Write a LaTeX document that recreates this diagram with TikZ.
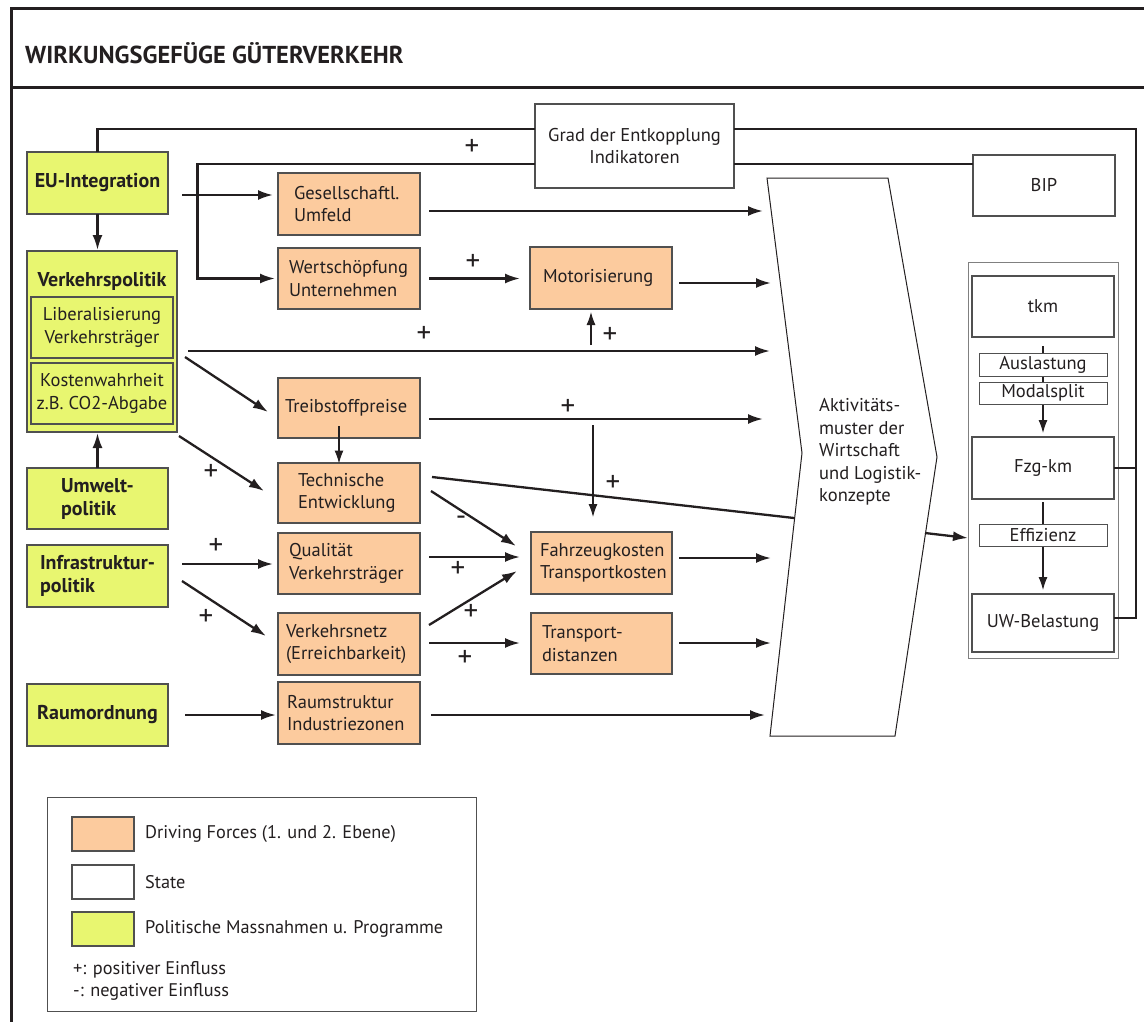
\documentclass[tikz,border=0pt]{standalone}
\usepackage{fontspec}
\setmainfont{PT Sans}
\usetikzlibrary{arrows.meta,calc}
\definecolor{orf}{RGB}{252,203,158}
\definecolor{grf}{RGB}{232,246,112}
\definecolor{bl}{RGB}{80,80,80}
\definecolor{ink}{RGB}{35,31,32}
\hyphenpenalty=10000
\exhyphenpenalty=10000
\begin{document}
\begin{tikzpicture}[x=1pt,y=-1pt,
  every node/.style={font=\fontsize{18.5}{22.5}\selectfont, text=ink},
  bx/.style={draw=bl, line width=1.1pt, anchor=north west, inner sep=0pt, outer sep=0pt},
  obox/.style={bx, fill=orf, minimum width=142pt, minimum height=61pt, align=left},
  gfont/.style={font=\fontsize{20}{23}\selectfont\bfseries},
  gbox/.style={bx, fill=grf, minimum width=141pt, minimum height=62pt, gfont},
  wbox/.style={bx, fill=white, minimum width=142pt, minimum height=61pt, align=center},
  sbox/.style={bx, fill=white, minimum width=128pt, minimum height=22pt, line width=1pt},
  arr/.style={draw=ink, line width=2.3pt, -{Latex[length=15pt,width=10pt]}},
  ln/.style={draw=ink, line width=2.3pt},
  tarr/.style={draw=ink, line width=1.1pt, -{Latex[length=13pt,width=9pt]}},
  pl/.style={font=\fontsize{29}{30}\selectfont, inner sep=0pt},
  sw/.style={bx, minimum width=62pt, minimum height=34pt},
  lt/.style={anchor=west, inner sep=0pt, font=\fontsize{18.3}{22}\selectfont}
]
\useasboundingbox (0,0) rectangle (1144,1021);
% frame
\draw[line width=3pt, ink] (11.5,1025) -- (11.5,8) -- (1148,8);
\draw[line width=3pt, ink] (11.5,87) -- (1148,87);
\node[anchor=west, inner sep=0pt, font=\fontsize{24.5}{28}\selectfont\bfseries] (title) at (25,53) {WIRKUNGSGEFÜGE GÜTERVERKEHR};

% green boxes
\node[gbox] (eu) at (27,152) {EU-Integration};
\node[gbox, minimum width=150pt, minimum height=181pt] (vp) at (27,251) {};
\node[anchor=center, inner sep=0pt, gfont] (vpt) at (102,281) {Verkehrspolitik};
\node[bx, fill=grf, minimum width=142pt, minimum height=61pt, align=center] (lib) at (31,297) {Liberalisierung\\Verkehrsträger};
\node[bx, fill=grf, minimum width=142pt, minimum height=61pt, align=center] (kost) at (31,363) {Kostenwahrheit\\z.B. CO2-Abgabe};
\node[gbox, minimum height=61pt, align=left] (umw) at (27,468) {Umwelt-\\politik};
\node[gbox, align=left] (infra) at (27,545) {Infrastruktur-\\politik};
\node[gbox] (raum) at (27,684) {Raumordnung};

% orange boxes
\node[obox, minimum height=62pt, inner xsep=16pt, text width=110pt] (ges) at (278,173) {Gesellschaftl.\\Umfeld};
\node[obox, inner xsep=11pt, text width=120pt] (wert) at (278,248) {Wertschöpfung\\Unternehmen};
\node[obox, minimum height=60pt, inner xsep=7pt, text width=128pt] (treib) at (278,378) {Treibstoffpreise};
\node[obox, minimum height=60pt, inner xsep=20pt, text width=102pt] (tech) at (278,463) {Technische\\Entwicklung};
\node[obox, inner xsep=11pt, text width=120pt] (qual) at (278,533) {Qualität\\Verkehrsträger};
\node[obox, minimum height=62pt, inner xsep=8pt, text width=126pt] (vnetz) at (278,613) {Verkehrsnetz\\(Erreichbarkeit)};
\node[obox, minimum height=62pt, inner xsep=9pt, text width=124pt] (rstr) at (278,682) {Raumstruktur\\Industriezonen};
\node[obox, minimum height=62pt, inner xsep=13pt, text width=116pt] (mot) at (530,247) {Motorisierung};
\node[obox, minimum width=141pt, minimum height=62pt, inner xsep=9pt, text width=123pt] (fzk) at (531,532) {Fahrzeugkosten\\Transportkosten};
\node[obox, minimum width=141pt, inner xsep=11pt, text width=119pt] (tdist) at (531,613) {Transport-\\distanzen};

% white boxes
\node[wbox, minimum width=199pt, minimum height=84pt] (grad) at (535,104) {Grad der Entkopplung\\Indikatoren};
\node[wbox, minimum height=61pt] (bip) at (973,155) {BIP};
\node[bx, draw=gray, line width=1pt, fill=white, minimum width=150pt, minimum height=396pt] (rbox) at (968,262) {};
\node[wbox, minimum height=61pt] (tkm) at (972,276) {tkm};
\node[wbox, minimum height=62pt] (fzg) at (972,437) {Fzg-km};
\node[wbox, minimum height=58pt] (uw) at (972,594) {UW-Belastung};
\draw[tarr] ([yshift=-9pt]tkm.south) -- ([yshift=4pt]fzg.north);
\draw[tarr] ([yshift=-3pt]fzg.south) -- ([yshift=4pt]uw.north);
\node[sbox, minimum height=23pt] (ausl) at (979,353) {Auslastung};
\node[sbox] (modal) at (979,382) {Modalsplit};
\node[sbox] (eff) at (979,524) {Effizienz};

% activity shape
\draw[draw=ink, line width=1pt, fill=white] (767,178) -- (888,178) -- (937,457) -- (895,736) -- (770,736) -- (802,453) -- cycle;
\node[anchor=west, inner sep=0pt, align=left] (akt) at (819,452) {Aktivitäts-\\muster der\\Wirtschaft\\und Logistik-\\konzepte};
\coordinate (s1) at (763,211);
\coordinate (s2) at (771,283);
\coordinate (s3) at (770,351);
\coordinate (s4) at (763,419);
\coordinate (s5) at (794,518);
\coordinate (s6) at (771,558);
\coordinate (s7) at (771,643);
\coordinate (s8) at (765,715);
\coordinate (s9) at (925,533);

% connectors from Grad
\draw[ln] (eu.north) |- ([shift={(0,-17)}]grad.west);
\draw[arr] ([shift={(0,18)}]grad.west) -| ([xshift=-80.5pt]wert.west) -- ([xshift=-3pt]wert.west);
\draw[ln] ([shift={(0,-17)}]grad.east) -| ([shift={(22,-5)}]uw.east) -- ([shift={(0,-5)}]uw.east);
\draw[ln] (fzg.east) -- ([xshift=22pt]fzg.east);
\draw[ln] ([shift={(0,18)}]grad.east) -- (bip.west |- {0,164});

% connectors
\draw[arr] ([shift={(14,12)}]eu.east) -- ([shift={(-5,12)}]ges.west |- {0,183});
\draw[arr] ([shift={(9,7)}]ges.east) -- (s1);
\draw[arr] (eu.south) -- ([yshift=1pt]eu.south |- vp.north);
\draw[arr] ([xshift=9pt]wert.east) -- ([xshift=-10pt]mot.west |- wert.east);
\draw[arr] ([shift={(7,5)}]mot.east) -- (s2);
\draw[arr] ([shift={(11,9.5)}]vp.east) -- (s3);
\draw[tarr] ([shift={(-10,36)}]mot.south) -- ([shift={(-10,3)}]mot.south);
\draw[arr] ([shift={(8,15.5)}]vp.east) -- ([shift={(-10,4)}]treib.west);
\draw[arr] ([shift={(9,11)}]treib.east) -- (s4);
\draw[tarr] ([shift={(-8.5,-107)}]fzk.north) -- ([shift={(-8.5,-15)}]fzk.north);
\draw[tarr] ([shift={(-10,-12)}]treib.south) -- ([xshift=-10pt, yshift=-0.5pt]tech.north);
\draw[arr] (umw.north) -- ([yshift=-1pt]umw.north |- vp.south);
\draw[arr] ([shift={(2,4)}]vp.south east) -- ([shift={(-14,-2)}]tech.west);
\draw[ln] ([shift={(12,-16)}]tech.east) -- (s5);
\draw[arr] ([shift={(11,-2)}]tech.east) -- ([shift={(-15,-17)}]fzk.west);
\draw[arr] ([shift={(14,-12)}]infra.east) -- ([shift={(-5,0.5)}]qual.west);
\draw[arr] ([shift={(14,5)}]infra.east) -- ([shift={(-12,-8)}]vnetz.west);
\draw[arr] ([shift={(9,-6.5)}]qual.east) -- ([shift={(-11,-6)}]fzk.west);
\draw[arr] ([shift={(9,-19)}]vnetz.east) -- ([shift={(-14,8)}]fzk.west);
\draw[arr] ([shift={(9,-1)}]vnetz.east) -- ([shift={(-11,-0.5)}]tdist.west);
\draw[arr] ([shift={(7,-5)}]fzk.east) -- (s6);
\draw[arr] ([shift={(7,-0.5)}]tdist.east) -- (s7);
\draw[arr] ([xshift=17pt]raum.east) -- ([shift={(-2,2)}]rstr.west);
\draw[arr] ([shift={(11,2)}]rstr.east) -- (s8);
\draw[arr] (s9) -- ([shift={(0,78)}]rbox.west);

% signs
\node[pl] (p1) at (472,147) {+};
\node[pl] (p2) at (473,262) {+};
\node[pl] (p3) at (424,334) {+};
\node[pl] (p4) at (610,335) {+};
\node[pl] (p5) at (568,407) {+};
\node[pl] (p6) at (613,483) {+};
\node[pl] (p7) at (211,472) {+};
\node[pl] (m1) at (461,521) {-};
\node[pl] (p8) at (216,546) {+};
\node[pl] (p9) at (458,569) {+};
\node[pl] (p10) at (471,612) {+};
\node[pl] (p11) at (206,617) {+};
\node[pl] (p12) at (465,658) {+};

% legend
\node[bx, draw=bl, line width=1pt, fill=white, minimum width=429pt, minimum height=214pt] (leg) at (47,797) {};
\node[sw, fill=orf] (sw1) at (72,817) {};
\node[sw, fill=white] (sw2) at (72,865) {};
\node[sw, fill=grf] (sw3) at (72,912) {};
\node[lt] (lt1) at (145,834) {Driving Forces (1. und 2. Ebene)};
\node[lt] (lt2) at (145,882) {State};
\node[lt] (lt3) at (145,929) {Politische Massnahmen u. Programme};
\node[lt] (lt4) at (73,970) {+: positiver Einfluss};
\node[lt] (lt5) at (73,992) {-: negativer Einfluss};
\end{tikzpicture}
\end{document}
